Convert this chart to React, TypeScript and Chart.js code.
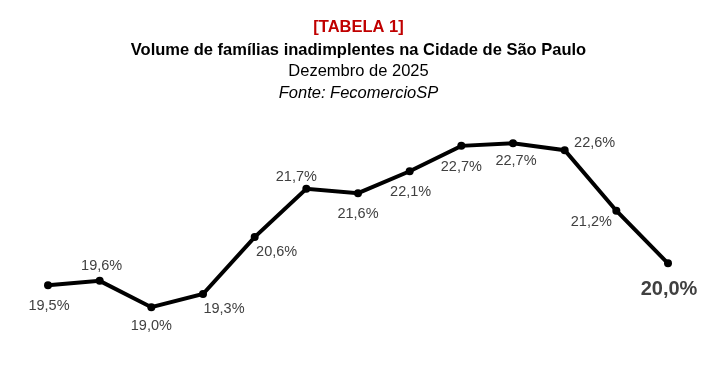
import React, { useEffect, useRef } from "react";
import { Chart, registerables } from "chart.js";

Chart.register(...registerables);

const categories = ["1", "2", "3", "4", "5", "6", "7", "8", "9", "10", "11", "12", "13"];
const values = [19.5, 19.6, 19.0, 19.3, 20.6, 21.7, 21.6, 22.1, 22.68, 22.74, 22.58, 21.2, 20.0];
const titleLines = [
  "[TABELA 1]",
  "Volume de famílias inadimplentes na Cidade de São Paulo",
  "Dezembro de 2025",
  "Fonte: FecomercioSP",
];
// label offsets (dx, dy) from each point, in px
const labelDx = [1, 2, 0, 21, 22, -10, 0, 1, 0, 3, 30, -25, 1];
const labelDy = [21, -15, 19, 15, 15, -12, 21, 21, 21, 18, -7, 11, 26];

const FONT = "'Liberation Sans', Arial, Helvetica, sans-serif";

const fmt = (v: number) => v.toFixed(1).replace(".", ",") + "%";

const textPlugin = {
  id: "customText",
  afterDraw(chart: any) {
    const ctx = chart.ctx as CanvasRenderingContext2D;
    ctx.save();
    ctx.textAlign = "center";
    ctx.textBaseline = "middle";
    const cx = chart.width / 2 + 2;
    const styles = [
      { font: `bold 16.5px ${FONT}`, color: "#C00000", y: 27 },
      { font: `bold 16.5px ${FONT}`, color: "#000000", y: 50 },
      { font: `16.5px ${FONT}`, color: "#000000", y: 71 },
      { font: `italic 16.5px ${FONT}`, color: "#000000", y: 93 },
    ];
    titleLines.forEach((t, i) => {
      ctx.font = styles[i].font;
      ctx.fillStyle = styles[i].color;
      ctx.fillText(t, cx, styles[i].y);
    });
    const meta = chart.getDatasetMeta(0);
    meta.data.forEach((pt: any, i: number) => {
      const last = i === values.length - 1;
      ctx.font = last ? `bold 20px ${FONT}` : `14.5px ${FONT}`;
      ctx.fillStyle = "#404040";
      ctx.fillText(fmt(values[i]), pt.x + labelDx[i], pt.y + labelDy[i]);
    });
    ctx.restore();
  },
};

export default function App() {
  const ref = useRef<HTMLCanvasElement | null>(null);
  useEffect(() => {
    document.body.style.margin = "0";
    if (!ref.current) return;
    const chart = new Chart(ref.current, {
      type: "line",
      data: {
        labels: categories,
        datasets: [
          {
            data: values,
            borderColor: "#000000",
            backgroundColor: "#000000",
            borderWidth: 4,
            pointRadius: 4,
            pointBackgroundColor: "#000000",
            pointBorderWidth: 0,
            tension: 0,
          },
        ],
      },
      options: {
        responsive: false,
        animation: false,
        layout: { padding: { left: 48, right: 45, top: 88, bottom: 30 } },
        plugins: { legend: { display: false }, tooltip: { enabled: false }, title: { display: false } },
        scales: {
          x: { display: false, offset: false },
          y: { display: false, min: 18, max: 24 },
        },
      },
      plugins: [textPlugin],
    });
    return () => chart.destroy();
  }, []);
  return <canvas ref={ref} width={713} height={381} style={{ display: "block", background: "#fff" }} />;
}
